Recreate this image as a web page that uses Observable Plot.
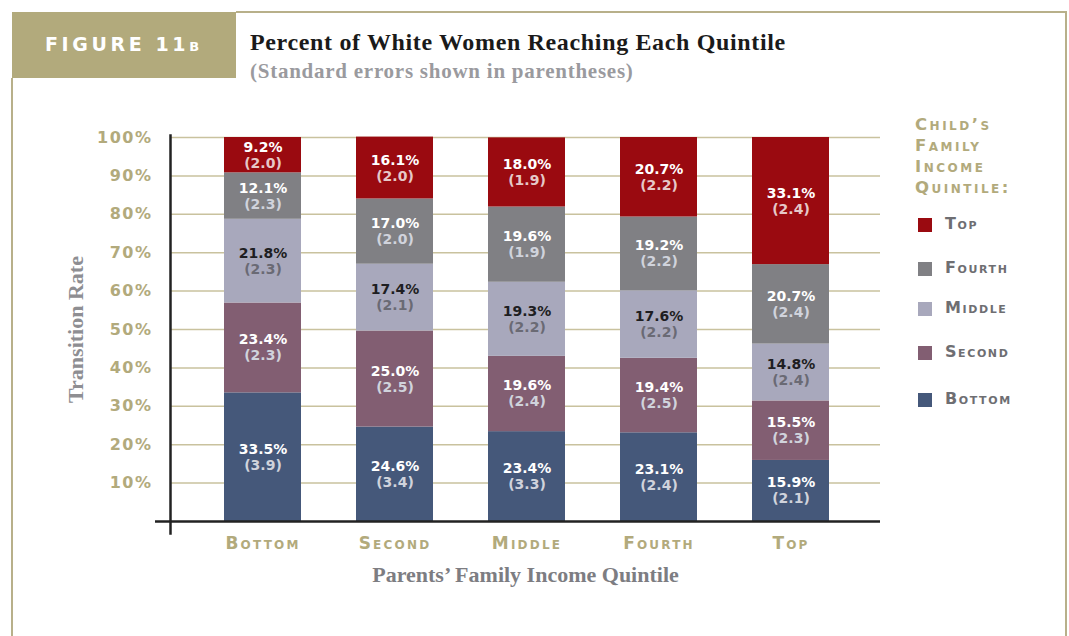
<!DOCTYPE html>
<html><head><meta charset="utf-8">
<script src="https://cdn.jsdelivr.net/npm/d3@7"></script>
<script src="https://cdn.jsdelivr.net/npm/@observablehq/plot@0.6"></script>
<style>
body{margin:0;background:#fff;}
#wrap{position:relative;width:1069px;height:636px;overflow:hidden;background:#fff;font-family:"DejaVu Sans",sans-serif;}
#chart{position:absolute;left:0;top:0;}
.line{position:absolute;background:#b8b08a;}
.hdrbox{position:absolute;left:12px;top:12px;width:224px;height:66px;background:#b2aa7c;}
.fig{position:absolute;left:45px;top:33px;color:#fff;font-size:19px;letter-spacing:3.6px;font-variant:small-caps;font-weight:bold;}
.title{position:absolute;left:250px;top:29px;font-family:"Liberation Serif",serif;font-weight:bold;font-size:24px;letter-spacing:0.65px;color:#1a1a1a;white-space:nowrap;}
.subtitle{position:absolute;left:250px;top:59px;font-family:"Liberation Serif",serif;font-weight:bold;font-size:21px;letter-spacing:0.75px;color:#9a9a9e;white-space:nowrap;}
.legtitle{position:absolute;left:915px;top:114px;color:#b2aa7c;font-size:16.5px;line-height:21px;font-variant:small-caps;letter-spacing:2.5px;font-weight:bold;}
.legitem{position:absolute;left:918px;height:14px;}
.legitem .sw{position:absolute;left:0;top:0;width:14px;height:14px;}
.legitem .lb{position:absolute;left:27px;top:-4px;color:#6e6e72;font-size:16px;font-variant:small-caps;letter-spacing:1.6px;font-weight:bold;white-space:nowrap;}
g[aria-label="y-axis tick label"] text{letter-spacing:1.5px;}
g[aria-label="x-axis tick label"] text{letter-spacing:2.2px;}
g[aria-label="seg-val"] text, g[aria-label="seg-se"] text{letter-spacing:2.6px;}
g[aria-label="x-title"] text, g[aria-label="y-title"] text{letter-spacing:0.3px;}
</style>
</head><body>
<div id="wrap">
  <div id="chart"></div>
  <div class="line" style="left:236px;top:11px;width:831px;height:2px;"></div>
  <div class="line" style="left:1065px;top:11px;width:2px;height:625px;"></div>
  <div class="line" style="left:11px;top:78px;width:2px;height:558px;"></div>
  <div class="hdrbox"></div>
  <div class="fig">FIGURE 11b</div>
  <div class="title">Percent of White Women Reaching Each Quintile</div>
  <div class="subtitle">(Standard errors shown in parentheses)</div>
  <div class="legtitle">Child’s<br>Family<br>Income<br>Quintile:</div>
  <div id="legend"></div>
</div>
<script>
const parents = ["Bottom","Second","Middle","Fourth","Top"];
const childQuintiles = ["Bottom","Second","Middle","Fourth","Top"];
// share of children in each child quintile, by parents' quintile
const pctBottom = [33.5, 24.6, 23.4, 23.1, 15.9];
const pctSecond = [23.4, 25.0, 19.6, 19.4, 15.5];
const pctMiddle = [21.8, 17.4, 19.3, 17.6, 14.8];
const pctFourth = [12.1, 17.0, 19.6, 19.2, 20.7];
const pctTop    = [9.2, 16.1, 18.0, 20.7, 33.1];
// standard errors
const seBottom = [3.9, 3.4, 3.3, 2.4, 2.1];
const seSecond = [2.3, 2.5, 2.4, 2.5, 2.3];
const seMiddle = [2.3, 2.1, 2.2, 2.2, 2.4];
const seFourth = [2.3, 2.0, 1.9, 2.2, 2.4];
const seTop    = [2.0, 2.0, 1.9, 2.2, 2.4];
const colors = ["#45587a", "#825e72", "#a8a8bc", "#808084", "#9a0a10"];
const yTicks = [10, 20, 30, 40, 50, 60, 70, 80, 90, 100];
const legendOrder = ["Top", "Fourth", "Middle", "Second", "Bottom"];

const pctSeries = [pctBottom, pctSecond, pctMiddle, pctFourth, pctTop];
const seSeries = [seBottom, seSecond, seMiddle, seFourth, seTop];
const data = [];
childQuintiles.forEach((c, i) => parents.forEach((p, j) => {
  data.push({parent: p, child: c, pct: pctSeries[i][j], se: seSeries[i][j]});
}));

const tan = "#b2aa7c";
const stackOpts = {x: "parent", y: "pct", z: "child", order: childQuintiles};
const valFill = d => d.child === "Middle" ? "#1e1e22" : "#ffffff";
const seFill = d => d.child === "Middle" ? "#6a6a74" : (d.child === "Top" ? "#e6c8c8" : "#d0d3dc");

const chart = Plot.plot({
  width: 1069, height: 636,
  marginTop: 137, marginBottom: 115, marginLeft: 170, marginRight: 189,
  style: {fontFamily: "DejaVu Sans, sans-serif", background: "transparent"},
  x: {domain: parents, insetLeft: 2, paddingInner: 0.42, paddingOuter: 0.38, label: null},
  y: {domain: [0, 100], label: null},
  color: {domain: childQuintiles, range: colors},
  marks: [
    Plot.ruleY(yTicks, {stroke: "#c9c29e", strokeWidth: 1.5}),
    Plot.barY(data, Plot.stackY({...stackOpts, fill: "child"})),
    Plot.text(data, Plot.stackY({...stackOpts, text: d => d.pct.toFixed(1) + "%", dy: -8, fill: valFill, fontSize: 14, fontWeight: "bold", ariaLabel: "seg-val"})),
    Plot.text(data, Plot.stackY({...stackOpts, text: d => "(" + d.se.toFixed(1) + ")", dy: 8, fill: seFill, fontSize: 14, fontWeight: "bold", ariaLabel: "seg-se"})),
    Plot.ruleY([0], {stroke: "#222", strokeWidth: 2.5, insetLeft: -15}),
    Plot.frame({anchor: "left", stroke: "#222", strokeWidth: 2.5, insetTop: -2, insetBottom: -12}),
    Plot.axisY({ticks: yTicks, tickSize: 0, tickPadding: 18, tickFormat: d => d + "%", fill: tan, fontSize: 16, fontWeight: "bold", label: null}),
    Plot.axisX({tickSize: 0, tickPadding: 15, fill: tan, fontSize: 17, fontWeight: "bold", fontVariant: "small-caps", label: null}),
    Plot.text(["Parents’ Family Income Quintile"], {frameAnchor: "bottom", dy: 60, fontFamily: "Liberation Serif, serif", fontWeight: "bold", fontSize: 22, fill: "#7d7d82", ariaLabel: "x-title"}),
    Plot.text(["Transition Rate"], {frameAnchor: "left", textAnchor: "middle", rotate: -90, dx: -95, fontFamily: "Liberation Serif, serif", fontWeight: "bold", fontSize: 22, fill: "#8e8e92", ariaLabel: "y-title"})
  ]
});
document.getElementById("chart").appendChild(chart);

const legendTops = [218, 262, 302, 346, 393];
const legend = document.getElementById("legend");
legendOrder.forEach((c, i) => {
  const item = document.createElement("div");
  item.className = "legitem";
  item.style.top = legendTops[i] + "px";
  const sw = document.createElement("div");
  sw.className = "sw";
  sw.style.background = colors[childQuintiles.indexOf(c)];
  const lb = document.createElement("div");
  lb.className = "lb";
  lb.textContent = c;
  item.appendChild(sw); item.appendChild(lb);
  legend.appendChild(item);
});
</script>
</body></html>
